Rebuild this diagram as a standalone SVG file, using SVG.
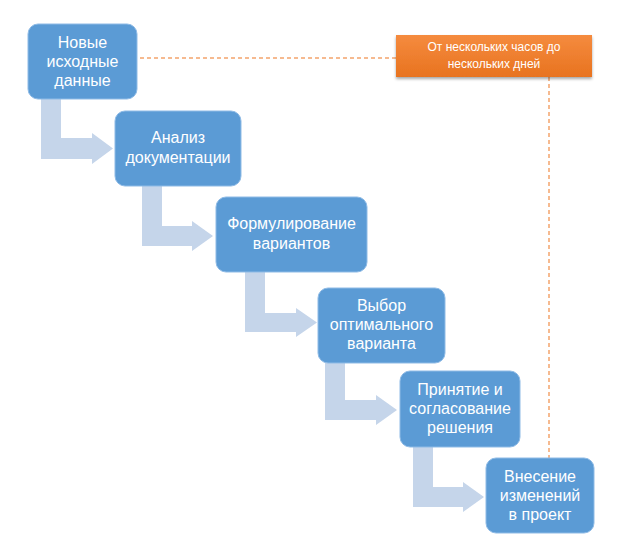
<svg xmlns="http://www.w3.org/2000/svg" width="623" height="557" viewBox="0 0 623 557">
<style>
.box{fill:#5b9bd5;stroke:#8fbbe6;stroke-width:1}
.t{font-family:"Liberation Sans",Arial,sans-serif;font-size:16px;fill:#ffffff;text-anchor:middle}
.ot{font-family:"Liberation Sans",Arial,sans-serif;font-size:12px;fill:#ffffff;text-anchor:middle}
.arr{fill:#c5d5ea}
.dash{fill:none;stroke:#f4a46c;stroke-width:1.5;stroke-dasharray:4 3}
</style>
<defs>
<linearGradient id="og" x1="0" y1="0" x2="0" y2="1">
<stop offset="0" stop-color="#f58b3f"/>
<stop offset="1" stop-color="#e8731f"/>
</linearGradient>
<filter id="sh" x="-10%" y="-20%" width="120%" height="150%">
<feDropShadow dx="0" dy="2" stdDeviation="1.5" flood-color="#000" flood-opacity="0.35"/>
</filter>
</defs>
<rect width="623" height="557" fill="#ffffff"/>
<g id="connectors">
<path class="arr" d="M41,99 H61 V138 H92 V133 L113,148.5 L92,164 V159 H41 Z"/>
<path class="arr" d="M142,186 H162 V226 H192 V221 L213,236 L192,251 V246 H142 Z"/>
<path class="arr" d="M245,272 H265 V313 H296 V308 L317,322.5 L296,337 V332 H245 Z"/>
<path class="arr" d="M325,362 H345 V400 H376 V395 L397,410 L376,425 V420 H325 Z"/>
<path class="arr" d="M413,447 H433 V487 H463 V482 L484,497 L463,512 V507 H413 Z"/>
<path class="dash" d="M140,58 H396"/>
<path class="dash" d="M549,77 V458"/>
</g>
<g id="n1"><rect class="box" x="28" y="24" width="109" height="75" rx="10"/>
<text class="t" x="82.5" y="48">Новые</text><text class="t" x="82.5" y="67">исходные</text><text class="t" x="82.5" y="86">данные</text></g>
<g id="n2"><rect class="box" x="115" y="111" width="126" height="75" rx="10"/>
<text class="t" x="178" y="143">Анализ</text><text class="t" x="178" y="163">документации</text></g>
<g id="n3"><rect class="box" x="216" y="197" width="151" height="75" rx="10"/>
<text class="t" x="291.5" y="229">Формулирование</text><text class="t" x="291.5" y="249">вариантов</text></g>
<g id="n4"><rect class="box" x="318" y="288" width="127" height="75" rx="10"/>
<text class="t" x="381.5" y="311">Выбор</text><text class="t" x="381.5" y="330">оптимального</text><text class="t" x="381.5" y="349">варианта</text></g>
<g id="n5"><rect class="box" x="400" y="371" width="120" height="76" rx="10"/>
<text class="t" x="460" y="395">Принятие и</text><text class="t" x="460" y="414">согласование</text><text class="t" x="460" y="433">решения</text></g>
<g id="n6"><rect class="box" x="486" y="458" width="108" height="75" rx="10"/>
<text class="t" x="540" y="482">Внесение</text><text class="t" x="540" y="501">изменений</text><text class="t" x="540" y="520">в проект</text></g>
<g id="note"><rect x="396" y="35" width="196" height="42" fill="url(#og)" filter="url(#sh)"/>
<text class="ot" x="494" y="51">От нескольких часов до</text><text class="ot" x="494" y="68">нескольких дней</text></g>
</svg>
